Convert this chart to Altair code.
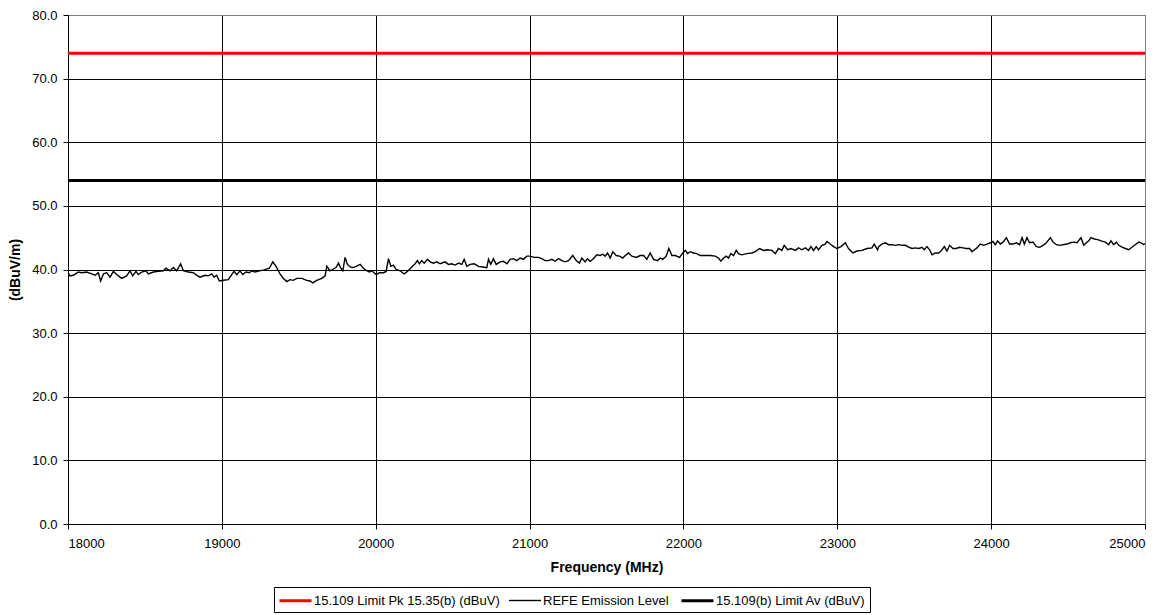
import altair as alt
import pandas as pd

series_names = ["15.109 Limit Pk 15.35(b) (dBuV)", "REFE Emission Level", "15.109(b) Limit Av (dBuV)"]

limit_freq = [18000, 25000]
limit_pk = [74.0, 74.0]
limit_av = [54.0, 54.0]

emission_freq = [
    18000, 18013, 18035, 18067, 18089, 18121, 18154, 18176, 18197, 18212, 18230, 18251, 18273, 18295, 18316,
    18349, 18381, 18403, 18420, 18442, 18457, 18479, 18507, 18522, 18555, 18587, 18620, 18637, 18663, 18685,
    18706, 18732, 18750, 18782, 18815, 18836, 18858, 18891, 18912, 18934, 18949, 18966, 18984, 19010, 19042,
    19064, 19079, 19097, 19118, 19136, 19157, 19179, 19194, 19216, 19244, 19270, 19309, 19331, 19352, 19378,
    19400, 19422, 19443, 19465, 19487, 19519, 19552, 19573, 19591, 19617, 19649, 19671, 19682, 19703, 19742,
    19758, 19771, 19786, 19801, 19816, 19834, 19851, 19873, 19899, 19920, 19942, 19959, 19974, 19990, 20003,
    20024, 20050, 20068, 20083, 20098, 20115, 20133, 20159, 20185, 20206, 20234, 20256, 20271, 20284, 20299,
    20315, 20336, 20354, 20375, 20397, 20419, 20451, 20473, 20494, 20516, 20538, 20560, 20575, 20592, 20614,
    20640, 20668, 20696, 20722, 20733, 20748, 20765, 20783, 20809, 20830, 20852, 20874, 20895, 20917, 20939,
    20960, 20982, 21004, 21030, 21058, 21079, 21101, 21123, 21145, 21166, 21188, 21210, 21231, 21253, 21281,
    21303, 21324, 21340, 21361, 21376, 21394, 21415, 21437, 21459, 21476, 21491, 21507, 21524, 21541, 21563,
    21585, 21606, 21622, 21643, 21665, 21693, 21719, 21741, 21762, 21784, 21806, 21832, 21849, 21866, 21888,
    21905, 21925, 21947, 21975, 21996, 22012, 22027, 22044, 22066, 22087, 22109, 22142, 22174, 22207, 22228,
    22243, 22261, 22278, 22293, 22308, 22326, 22343, 22358, 22380, 22412, 22445, 22467, 22495, 22521, 22543,
    22575, 22597, 22618, 22640, 22655, 22677, 22699, 22727, 22748, 22770, 22792, 22813, 22829, 22846, 22863,
    22878, 22900, 22922, 22933, 22954, 22976, 22998, 23024, 23052, 23073, 23102, 23128, 23160, 23193, 23225,
    23240, 23262, 23269, 23290, 23312, 23334, 23355, 23377, 23399, 23420, 23442, 23464, 23486, 23507, 23529,
    23551, 23566, 23583, 23600, 23616, 23637, 23659, 23674, 23696, 23713, 23730, 23752, 23773, 23795, 23817,
    23839, 23860, 23876, 23891, 23908, 23930, 23952, 23973, 23995, 24012, 24027, 24042, 24060, 24077, 24099,
    24120, 24142, 24164, 24185, 24201, 24216, 24233, 24250, 24272, 24294, 24316, 24337, 24359, 24385, 24402,
    24424, 24446, 24467, 24493, 24515, 24536, 24558, 24584, 24602, 24619, 24634, 24649, 24671, 24693, 24714,
    24742, 24764, 24779, 24796, 24814, 24829, 24851, 24872, 24894, 24915, 24937, 24959, 24974, 24991, 25000,
]

emission_level = [
    39.5, 39.0, 39.1, 39.6, 39.5, 39.6, 39.3, 39.1, 39.5, 38.2, 39.3, 39.5, 38.8, 39.7, 39.2,
    38.6, 39.0, 39.8, 39.0, 39.7, 39.2, 39.6, 39.8, 39.3, 39.6, 39.7, 39.8, 40.2, 39.8, 40.3,
    39.8, 40.9, 39.8, 39.6, 39.5, 39.1, 38.8, 39.1, 39.0, 39.3, 38.8, 39.1, 38.2, 38.3, 38.4,
    39.2, 39.7, 39.2, 39.8, 39.2, 39.6, 39.5, 39.8, 39.6, 39.8, 39.9, 40.2, 41.2, 40.5, 39.3,
    38.6, 38.1, 38.4, 38.3, 38.6, 38.6, 38.3, 38.2, 37.9, 38.3, 38.6, 39.0, 40.5, 39.8, 40.3,
    41.0, 40.3, 39.8, 41.9, 40.8, 40.4, 40.3, 40.5, 40.8, 40.2, 39.8, 39.6, 39.8, 39.5, 39.2,
    39.5, 39.5, 39.7, 41.7, 40.5, 40.7, 40.0, 39.8, 39.3, 39.7, 40.4, 40.9, 41.4, 40.9, 41.4,
    41.0, 41.6, 41.2, 41.0, 41.2, 40.9, 41.2, 40.8, 40.9, 40.7, 41.0, 40.8, 41.6, 40.5, 40.8,
    40.9, 40.5, 40.4, 40.3, 41.6, 40.8, 41.7, 40.8, 41.2, 41.3, 40.9, 41.6, 41.7, 41.4, 41.8,
    41.6, 42.1, 42.1, 41.9, 41.9, 41.7, 41.4, 41.4, 41.6, 41.3, 41.7, 41.4, 41.2, 41.4, 42.2,
    41.4, 41.0, 41.8, 41.2, 41.7, 41.3, 41.7, 42.3, 42.2, 42.4, 42.1, 42.6, 41.8, 42.8, 42.2,
    42.1, 41.8, 42.2, 42.6, 42.1, 41.9, 42.2, 42.2, 41.6, 42.6, 41.6, 41.4, 41.8, 41.6, 42.1,
    43.3, 42.2, 42.2, 41.9, 42.6, 43.0, 42.5, 42.8, 42.6, 42.5, 42.2, 42.2, 42.2, 42.1, 41.8,
    41.3, 41.8, 42.1, 41.8, 42.5, 42.2, 43.0, 42.5, 42.3, 42.5, 42.6, 42.8, 43.3, 43.0, 43.1,
    43.0, 42.5, 43.3, 43.0, 43.8, 43.1, 43.3, 43.0, 43.4, 43.1, 43.4, 43.0, 43.6, 43.0, 43.6,
    43.1, 43.8, 44.0, 44.4, 44.0, 43.6, 43.3, 43.6, 44.2, 43.3, 42.6, 42.9, 43.0, 43.3, 43.4,
    44.0, 43.1, 43.6, 44.0, 44.2, 43.9, 43.9, 43.8, 43.9, 43.8, 43.8, 43.5, 43.3, 43.4, 43.3,
    43.5, 43.1, 43.6, 43.1, 42.3, 42.6, 42.6, 42.9, 43.6, 42.9, 43.8, 43.3, 43.3, 43.5, 43.4,
    43.3, 43.3, 42.8, 43.1, 43.4, 44.0, 43.8, 44.0, 44.2, 44.4, 43.9, 44.5, 44.0, 44.3, 45.0,
    44.0, 44.0, 44.2, 43.9, 45.0, 44.0, 45.0, 44.2, 44.3, 43.6, 43.5, 43.8, 44.2, 45.0, 44.3,
    43.9, 43.8, 43.9, 44.0, 44.2, 44.3, 44.2, 45.0, 43.8, 44.2, 44.5, 45.0, 44.8, 44.7, 44.5,
    44.3, 43.9, 44.5, 43.9, 44.3, 43.8, 43.5, 43.3, 43.1, 43.5, 43.9, 44.3, 44.2, 43.9, 44.1,
]

x_ticks = [18000, 19000, 20000, 21000, 22000, 23000, 24000, 25000]
y_ticks = [0, 10, 20, 30, 40, 50, 60, 70, 80]

rows = []
for f, v in zip(limit_freq, limit_pk):
    rows.append({"series": series_names[0], "freq": f, "level": v})
for f, v in zip(emission_freq, emission_level):
    rows.append({"series": series_names[1], "freq": f, "level": v})
for f, v in zip(limit_freq, limit_av):
    rows.append({"series": series_names[2], "freq": f, "level": v})
df = pd.DataFrame(rows)

FONT = "Liberation Sans"

legend_cfg = dict(
    orient="none",
    legendX=206,
    legendY=572,
    direction="horizontal",
    title=None,
    symbolType="M-1,0H3",
    symbolSize=256,
    labelFontSize=13,
    labelFont=FONT,
    labelColor="#000000",
    strokeColor="#000000",
    fillColor="#ffffff",
    padding=4,
    columnPadding=6,
    symbolOffset=0,
    labelOffset=17,
    labelLimit=400,
)

chart = (
    alt.Chart(df)
    .mark_line(clip=True)
    .encode(
        x=alt.X(
            "freq:Q",
            scale=alt.Scale(domain=[18000, 25000], nice=False, zero=False),
            axis=alt.Axis(
                values=x_ticks,
                format="d",
                title="Frequency (MHz)",
                grid=True,
                gridColor={"condition": {"test": "datum.value == 25000", "value": "#808080"}, "value": "#000000"},
                labelPadding=8,
                titlePadding=10,
            ),
        ),
        y=alt.Y(
            "level:Q",
            scale=alt.Scale(domain=[0, 80], nice=False),
            axis=alt.Axis(
                values=y_ticks,
                format=".1f",
                title="(dBuV/m)",
                grid=True,
                gridColor={"condition": {"test": "datum.value == 80", "value": "#808080"}, "value": "#000000"},
                labelPadding=6,
                titlePadding=9,
            ),
        ),
        color=alt.Color(
            "series:N",
            scale=alt.Scale(domain=series_names, range=["#ff0000", "#000000", "#000000"]),
            legend=alt.Legend(**legend_cfg),
        ),
        strokeWidth=alt.StrokeWidth(
            "series:N",
            scale=alt.Scale(type="ordinal", domain=series_names, range=[3, 1.4, 3]),
            legend=alt.Legend(**legend_cfg),
        ),
    )
    .properties(
        width=1077,
        height=509,
        autosize=alt.AutoSizeParams(type="none"),
        padding={"left": 60, "top": 7, "right": 20, "bottom": 91},
    )
    .configure_view(stroke="#808080", strokeWidth=1)
    .configure_axis(
        labelFont=FONT,
        labelFontSize=13,
        labelColor="#000000",
        titleFont=FONT,
        titleFontSize=14,
        titleFontWeight="bold",
        titleColor="#000000",
        domainColor="#000000",
        domainWidth=1,
        tickColor="#000000",
        tickSize=5,
        gridWidth=1,
        gridOpacity=1,
    )
)

chart.save("out.html", embed_options={"renderer": "svg", "actions": False})
